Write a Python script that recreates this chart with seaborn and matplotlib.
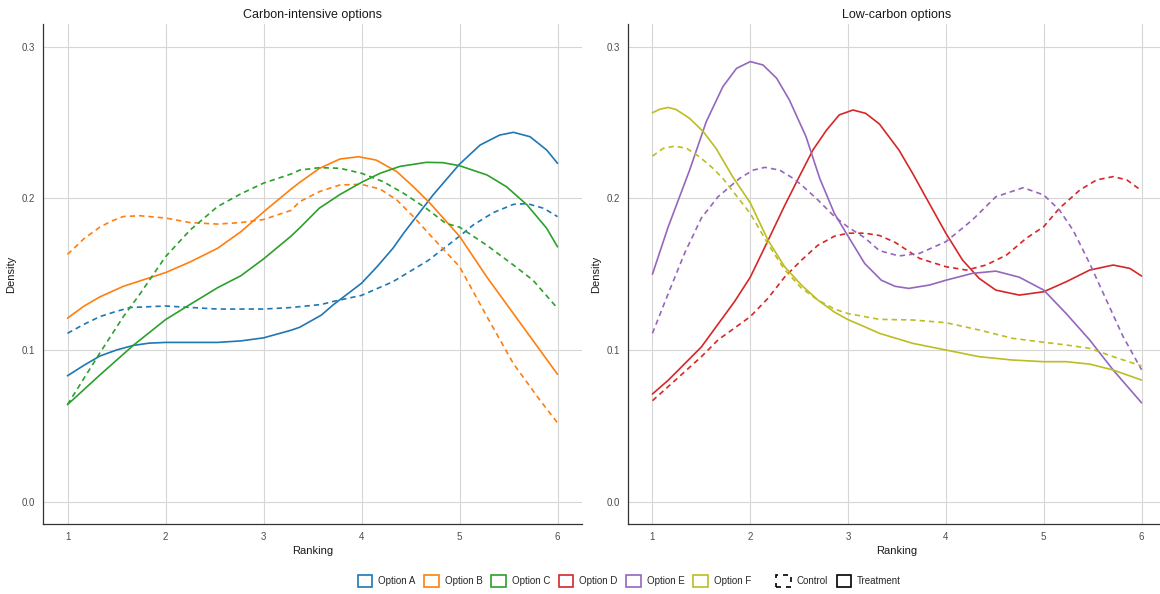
import numpy as np
import pandas as pd
import matplotlib
matplotlib.use("Agg")
import matplotlib.pyplot as plt
from matplotlib.patches import Patch
import seaborn as sns

# values (ranking -> density)
# carbon-intensive options
a_treat_x = [1.0, 1.17, 1.33, 1.5, 1.67, 1.83, 2.0, 2.53, 2.77, 3.0, 3.28, 3.37, 3.59, 3.71, 4.0, 4.16, 4.32, 4.43, 4.68, 4.73, 5.0, 5.21, 5.41, 5.55, 5.72, 5.89, 6.0]
a_treat_y = [0.083, 0.090, 0.096, 0.100, 0.103, 0.1045, 0.105, 0.105, 0.106, 0.108, 0.113, 0.115, 0.123, 0.1297, 0.144, 0.155, 0.167, 0.177, 0.198, 0.2022, 0.2225, 0.2351, 0.2417, 0.2435, 0.2406, 0.2318, 0.2231]
a_ctrl_x = [1.0, 1.17, 1.33, 1.5, 1.64, 2.0, 2.53, 3.0, 3.28, 3.59, 3.71, 4.0, 4.32, 4.68, 5.0, 5.14, 5.28, 5.35, 5.55, 5.69, 5.86, 6.0]
a_ctrl_y = [0.111, 0.117, 0.122, 0.1255, 0.128, 0.129, 0.127, 0.127, 0.128, 0.130, 0.132, 0.136, 0.145, 0.159, 0.175, 0.1824, 0.188, 0.1907, 0.196, 0.1965, 0.1934, 0.1879]

b_treat_x = [1.0, 1.17, 1.33, 1.57, 2.0, 2.25, 2.53, 2.77, 3.0, 3.28, 3.37, 3.57, 3.78, 3.97, 4.15, 4.36, 4.53, 4.7, 5.0, 5.28, 5.55, 5.82, 6.0]
b_treat_y = [0.121, 0.129, 0.135, 0.142, 0.151, 0.158, 0.167, 0.178, 0.191, 0.206, 0.2105, 0.2197, 0.2259, 0.2274, 0.2252, 0.2176, 0.2076, 0.1967, 0.175, 0.148, 0.124, 0.100, 0.084]
b_ctrl_x = [1.0, 1.17, 1.33, 1.45, 1.57, 1.74, 2.0, 2.25, 2.53, 2.77, 3.0, 3.28, 3.37, 3.57, 3.78, 4.0, 4.19, 4.36, 4.53, 4.7, 5.0, 5.28, 5.55, 5.82, 6.0]
b_ctrl_y = [0.163, 0.1735, 0.181, 0.185, 0.188, 0.1885, 0.187, 0.184, 0.183, 0.184, 0.186, 0.192, 0.1978, 0.2044, 0.2088, 0.2092, 0.2061, 0.1989, 0.1879, 0.1758, 0.155, 0.122, 0.091, 0.067, 0.052]

c_treat_x = [1.0, 1.33, 1.67, 2.0, 2.25, 2.53, 2.77, 3.0, 3.28, 3.37, 3.57, 3.78, 4.0, 4.19, 4.39, 4.66, 4.83, 5.0, 5.28, 5.48, 5.69, 5.89, 6.0]
c_treat_y = [0.064, 0.0835, 0.103, 0.120, 0.130, 0.141, 0.149, 0.160, 0.175, 0.1805, 0.1935, 0.2025, 0.2105, 0.2165, 0.221, 0.2237, 0.2235, 0.2215, 0.2154, 0.2076, 0.1956, 0.1802, 0.168]
c_ctrl_x = [1.0, 1.33, 1.57, 1.74, 2.0, 2.25, 2.53, 2.77, 3.0, 3.28, 3.37, 3.57, 3.78, 4.0, 4.22, 4.43, 4.66, 4.86, 5.0, 5.28, 5.55, 5.75, 6.0]
c_ctrl_y = [0.064, 0.098, 0.122, 0.137, 0.1615, 0.179, 0.1945, 0.203, 0.210, 0.216, 0.2186, 0.2202, 0.2198, 0.2165, 0.211, 0.2033, 0.1934, 0.1835, 0.181, 0.169, 0.156, 0.146, 0.1275]

# low-carbon options
d_treat_x = [1.0, 1.16, 1.33, 1.5, 1.67, 1.84, 2.0, 2.18, 2.35, 2.5, 2.64, 2.78, 2.91, 3.05, 3.18, 3.32, 3.52, 3.66, 3.83, 4.0, 4.17, 4.34, 4.51, 4.75, 5.0, 5.23, 5.47, 5.71, 5.88, 6.0]
d_treat_y = [0.071, 0.080, 0.091, 0.102, 0.117, 0.132, 0.148, 0.172, 0.195, 0.2142, 0.2318, 0.245, 0.255, 0.2582, 0.256, 0.249, 0.2318, 0.2164, 0.1966, 0.1769, 0.1593, 0.1472, 0.1395, 0.1362, 0.1384, 0.145, 0.1527, 0.156, 0.1538, 0.1488]
d_ctrl_x = [1.0, 1.16, 1.33, 1.5, 1.67, 2.0, 2.18, 2.35, 2.52, 2.69, 2.86, 3.0, 3.17, 3.32, 3.48, 3.73, 4.0, 4.21, 4.41, 4.62, 4.82, 5.0, 5.16, 5.37, 5.54, 5.71, 5.85, 6.0]
d_ctrl_y = [0.0666, 0.0758, 0.0857, 0.0956, 0.1066, 0.122, 0.134, 0.148, 0.159, 0.169, 0.175, 0.177, 0.177, 0.1755, 0.171, 0.1604, 0.1549, 0.1527, 0.156, 0.1626, 0.1736, 0.1813, 0.1934, 0.2055, 0.2121, 0.2143, 0.2121, 0.205]

e_treat_x = [1.0, 1.16, 1.38, 1.55, 1.72, 1.86, 2.0, 2.13, 2.27, 2.4, 2.57, 2.71, 2.86, 3.0, 3.17, 3.34, 3.48, 3.62, 3.83, 4.0, 4.27, 4.51, 4.75, 5.0, 5.23, 5.47, 5.71, 6.0]
e_treat_y = [0.150, 0.181, 0.2186, 0.2505, 0.2736, 0.2857, 0.2901, 0.2879, 0.2791, 0.2648, 0.2406, 0.2131, 0.190, 0.175, 0.157, 0.146, 0.142, 0.1406, 0.1428, 0.146, 0.1505, 0.152, 0.148, 0.1395, 0.124, 0.1066, 0.0868, 0.0652]
e_ctrl_x = [1.0, 1.16, 1.33, 1.5, 1.67, 1.89, 2.03, 2.15, 2.3, 2.44, 2.52, 2.69, 2.86, 3.0, 3.17, 3.32, 3.52, 3.73, 4.0, 4.27, 4.51, 4.79, 5.0, 5.16, 5.3, 5.47, 5.64, 5.81, 6.0]
e_ctrl_y = [0.111, 0.137, 0.164, 0.187, 0.201, 0.2131, 0.2186, 0.2204, 0.2186, 0.2131, 0.209, 0.199, 0.188, 0.181, 0.174, 0.1655, 0.162, 0.1637, 0.1714, 0.1857, 0.201, 0.207, 0.2022, 0.1923, 0.179, 0.157, 0.133, 0.109, 0.087]

f_treat_x = [1.0, 1.07, 1.16, 1.24, 1.38, 1.52, 1.65, 1.82, 2.0, 2.18, 2.35, 2.52, 2.69, 2.86, 3.0, 3.17, 3.32, 3.66, 4.0, 4.34, 4.68, 5.0, 5.23, 5.47, 5.71, 6.0]
f_treat_y = [0.2564, 0.2586, 0.2599, 0.2586, 0.2527, 0.2439, 0.2329, 0.2142, 0.197, 0.1725, 0.155, 0.143, 0.133, 0.125, 0.120, 0.1153, 0.111, 0.1044, 0.100, 0.0956, 0.0934, 0.0923, 0.0923, 0.0907, 0.0868, 0.0802]
f_ctrl_x = [1.0, 1.11, 1.23, 1.35, 1.48, 1.62, 1.72, 2.0, 2.18, 2.35, 2.52, 2.69, 2.86, 3.0, 3.17, 3.32, 3.66, 4.0, 4.34, 4.68, 5.0, 5.23, 5.47, 5.71, 6.0]
f_ctrl_y = [0.2278, 0.2329, 0.2344, 0.2329, 0.2274, 0.2197, 0.2131, 0.190, 0.170, 0.153, 0.141, 0.133, 0.127, 0.124, 0.122, 0.1202, 0.1198, 0.118, 0.1132, 0.1077, 0.1051, 0.1033, 0.1011, 0.0956, 0.0895]

options = ["Option A", "Option B", "Option C", "Option D", "Option E", "Option F"]
colors = ["#1f77b4", "#ff7f0e", "#2ca02c", "#d62728", "#9467bd", "#bcbd22"]
panel_titles = ["Carbon-intensive options", "Low-carbon options"]


def make_df(series, panel):
    rows = []
    for opt, group, xs, ys in series:
        for x, y in zip(xs, ys):
            rows.append({"ranking": x, "density": y, "option": opt, "group": group, "panel": panel})
    return pd.DataFrame(rows)


left_df = make_df([
    ("Option A", "Treatment", a_treat_x, a_treat_y), ("Option A", "Control", a_ctrl_x, a_ctrl_y),
    ("Option B", "Treatment", b_treat_x, b_treat_y), ("Option B", "Control", b_ctrl_x, b_ctrl_y),
    ("Option C", "Treatment", c_treat_x, c_treat_y), ("Option C", "Control", c_ctrl_x, c_ctrl_y),
], panel_titles[0])
right_df = make_df([
    ("Option D", "Treatment", d_treat_x, d_treat_y), ("Option D", "Control", d_ctrl_x, d_ctrl_y),
    ("Option E", "Treatment", e_treat_x, e_treat_y), ("Option E", "Control", e_ctrl_x, e_ctrl_y),
    ("Option F", "Treatment", f_treat_x, f_treat_y), ("Option F", "Control", f_ctrl_x, f_ctrl_y),
], panel_titles[1])

sns.set_style("white")
plt.rcParams['font.family'] = ['Liberation Sans', 'DejaVu Sans']

palette = dict(zip(options, colors))
dash_map = {"Control": (3.2, 2.4), "Treatment": ""}

fig = plt.figure(figsize=(11.6, 5.94), dpi=100)
ax1 = fig.add_axes([43 / 1160, 70 / 594, 539 / 1160, 500 / 594])
ax2 = fig.add_axes([628 / 1160, 70 / 594, 538 / 1160, 500 / 594])

for ax, df, title in [(ax1, left_df, panel_titles[0]), (ax2, right_df, panel_titles[1])]:
    sns.lineplot(ax=ax, data=df, x="ranking", y="density", hue="option", style="group",
                 palette=palette, dashes=dash_map, estimator=None, sort=True,
                 linewidth=1.2, legend=False)
    for ln in ax.get_lines():
        ln.set_solid_joinstyle("round")
        ln.set_dash_joinstyle("round")
    ax.set_xlim(0.75, 6.25)
    ax.set_ylim(-0.0147, 0.3149)
    ax.set_xticks([1, 2, 3, 4, 5, 6])
    ax.set_yticks([0.0, 0.1, 0.2, 0.3])
    ax.set_yticklabels(["0.0", "0.1", "0.2", "0.3"])
    ax.grid(True, color="#d6d6d6", linewidth=0.8)
    ax.set_axisbelow(True)
    for s in ["top", "right"]:
        ax.spines[s].set_visible(False)
    for s in ["left", "bottom"]:
        ax.spines[s].set_color("#333333")
        ax.spines[s].set_linewidth(0.9)
    ax.tick_params(axis="both", length=3, width=0.8, color="#333333",
                   labelsize=7, labelcolor="#4d4d4d", pad=3)
    ax.set_title(title, fontsize=9, color="#1a1a1a", pad=4)
    ax.set_xlabel("Ranking", fontsize=8, color="#1a1a1a", labelpad=3)
    ax.set_ylabel("Density", fontsize=8, color="#1a1a1a", labelpad=4)

opt_handles = [Patch(facecolor="none", edgecolor=c, linewidth=1.2, label=o) for o, c in zip(options, colors)]
grp_handles = [Patch(facecolor="none", edgecolor="black", linewidth=1.2, linestyle=(0, (3, 3)), label="Control"),
               Patch(facecolor="none", edgecolor="black", linewidth=1.2, label="Treatment")]

leg_kw = dict(frameon=False, fontsize=7, handlelength=1.5, handleheight=1.5,
              handletextpad=0.6, columnspacing=0.9, borderaxespad=0, loc="center")
fig.legend(handles=opt_handles, ncol=6, bbox_to_anchor=(0.478, 0.022), **leg_kw)
fig.legend(handles=grp_handles, ncol=2, bbox_to_anchor=(0.723, 0.022), **leg_kw)

fig.savefig("out.png", dpi=100)
